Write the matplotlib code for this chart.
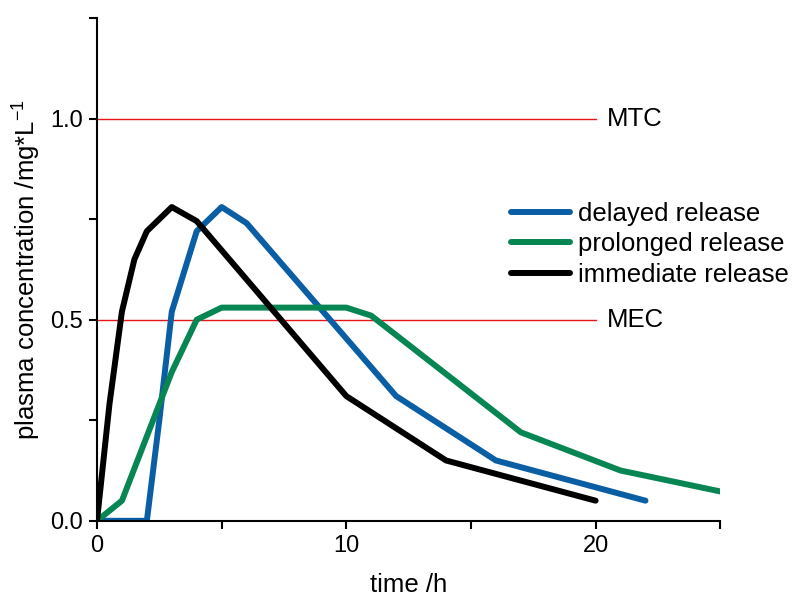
import matplotlib
matplotlib.use("Agg")
import matplotlib.pyplot as plt

plt.rcParams['font.family'] = ['Liberation Sans', 'DejaVu Sans']
plt.rcParams['mathtext.default'] = 'regular'

# data
t_delayed = [0, 2, 2.5, 3, 4, 5, 6, 12, 16, 22]
c_delayed = [0, 0, 0.25, 0.52, 0.72, 0.78, 0.74, 0.31, 0.15, 0.05]

t_prolonged = [0, 1, 3, 4, 5, 10, 11, 17, 21, 25]
c_prolonged = [0, 0.05, 0.37, 0.50, 0.53, 0.53, 0.51, 0.22, 0.125, 0.073]

t_immediate = [0, 0.5, 1, 1.5, 2, 3, 4, 10, 14, 20]
c_immediate = [0, 0.29, 0.52, 0.65, 0.72, 0.78, 0.745, 0.31, 0.15, 0.05]

limit_names = ["MTC", "MEC"]
limit_values = [1.0, 0.5]
limit_end = 20

xticks = [0, 5, 10, 15, 20, 25]
xticklabels = ["0", "", "10", "", "20", ""]
yticks = [0, 0.25, 0.5, 0.75, 1.0, 1.25]
yticklabels = ["0.0", "", "0.5", "", "1.0", ""]

fig = plt.figure(figsize=(7.95, 6.0), dpi=100)
ax = fig.add_axes([0.122, 0.132, 0.784, 0.838])

for name, val in zip(limit_names, limit_values):
    ax.plot([0, limit_end], [val, val], color='#e8141c', lw=1.0, zorder=1)
    ax.text(20.45, val, name, fontsize=18.5, va='center', ha='left')

lw = 4.3
ax.plot(t_delayed, c_delayed, color='#0a5ea4', lw=lw, label='delayed release', solid_capstyle='round')
ax.plot(t_prolonged, c_prolonged, color='#078552', lw=lw, label='prolonged release', solid_capstyle='round')
ax.plot(t_immediate, c_immediate, color='black', lw=lw, label='immediate release', solid_capstyle='round')

ax.set_xlim(0, 25)
ax.set_ylim(0, 1.25)
ax.set_xticks(xticks)
ax.set_xticklabels(xticklabels)
ax.set_yticks(yticks)
ax.set_yticklabels(yticklabels)
ax.tick_params(axis='both', direction='out', length=6, width=1.5, labelsize=17, pad=4)

for s in ['top', 'right']:
    ax.spines[s].set_visible(False)
for s in ['left', 'bottom']:
    ax.spines[s].set_linewidth(1.5)

ax.set_xlabel("time /h", fontsize=18.5, labelpad=12)
ax.set_ylabel("plasma concentration /mg*L$^{-1}$", fontsize=18.5)
ax.yaxis.set_label_coords(-0.086, 0.5)

ax.legend(loc='upper left', bbox_to_anchor=(0.664, 0.634), frameon=False,
          fontsize=18.5, handlelength=2.3, handletextpad=0.3, labelspacing=0.25,
          borderpad=0, borderaxespad=0)

fig.savefig("out.png", dpi=100)
